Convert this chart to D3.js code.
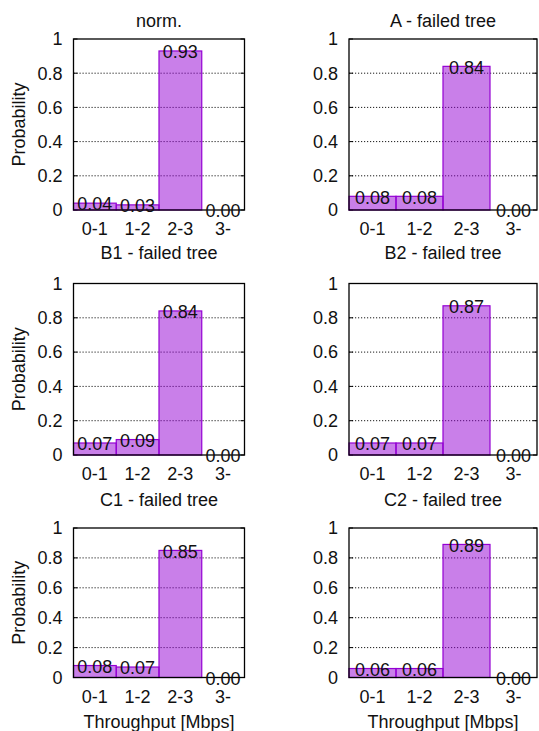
<!DOCTYPE html>
<html>
<head>
<meta charset="utf-8">
<script src="https://cdn.jsdelivr.net/npm/d3@7"></script>
<style>
  html, body { margin: 0; padding: 0; background: #fff; }
  svg text { font-family: "Liberation Sans", Arial, Helvetica, sans-serif; fill: #111; }
</style>
</head>
<body>
<svg id="chart" width="539" height="731"></svg>
<script>
// Throughput bins shared by every panel
const categories = ["0-1", "1-2", "2-3", "3-"];

// Panel titles, in reading order
const titles = ["norm.", "A - failed tree", "B1 - failed tree", "B2 - failed tree", "C1 - failed tree", "C2 - failed tree"];

// Probability of each throughput bin, per scenario
const normValues = [0.04, 0.03, 0.93, 0.00];
const aValues    = [0.08, 0.08, 0.84, 0.00];
const b1Values   = [0.07, 0.09, 0.84, 0.00];
const b2Values   = [0.07, 0.07, 0.87, 0.00];
const c1Values   = [0.08, 0.07, 0.85, 0.00];
const c2Values   = [0.06, 0.06, 0.89, 0.00];

// Y-axis ticks
const yTicks = [0, 0.2, 0.4, 0.6, 0.8, 1];
const yTickLabels = ["0", "0.2", "0.4", "0.6", "0.8", "1"];

const yLabel = "Probability";
const xLabel = "Throughput [Mbps]";

const seriesList = [normValues, aValues, b1Values, b2Values, c1Values, c2Values];

// Plot-area frames for the 3x2 grid
const cols = [{ x0: 73.5, x1: 244.5 }, { x0: 349, x1: 537 }];
const rows = [
  { y0: 39,    y1: 210,   titleY: 21 },
  { y0: 283.5, y1: 455,   titleY: 252.7 },
  { y0: 528,   y1: 677.5, titleY: 500 }
];

const svg = d3.select("#chart");
const barStroke = "#9400d3";
const fontSize = 18;

seriesList.forEach((values, i) => {
  const col = cols[i % 2];
  const row = rows[Math.floor(i / 2)];
  const x = d3.scaleBand().domain(categories).range([col.x0, col.x1]).padding(0);
  const y = d3.scaleLinear().domain([0, 1]).range([row.y1, row.y0]);

  const g = svg.append("g");

  // dotted grid lines
  g.selectAll("line.grid")
    .data(yTicks.filter(t => t > 0 && t < 1))
    .join("line")
    .attr("x1", col.x0).attr("x2", col.x1)
    .attr("y1", d => y(d)).attr("y2", d => y(d))
    .attr("stroke", "#000").attr("stroke-width", 0.9)
    .attr("stroke-dasharray", "1.2,1.8");

  // short solid tick marks on both vertical borders
  const tickLen = 4;
  yTicks.forEach(t => {
    g.append("line").attr("x1", col.x0).attr("x2", col.x0 + tickLen)
      .attr("y1", y(t)).attr("y2", y(t)).attr("stroke", "#000").attr("stroke-width", 1);
    g.append("line").attr("x1", col.x1 - tickLen).attr("x2", col.x1)
      .attr("y1", y(t)).attr("y2", y(t)).attr("stroke", "#000").attr("stroke-width", 1);
  });

  // bars
  g.selectAll("rect.bar")
    .data(values)
    .join("rect")
    .attr("x", (d, k) => x(categories[k]))
    .attr("width", x.bandwidth())
    .attr("y", d => y(d))
    .attr("height", d => y(0) - y(d))
    .attr("fill", barStroke).attr("fill-opacity", 0.5)
    .attr("stroke", barStroke).attr("stroke-width", 1.2);

  // frame
  g.append("rect")
    .attr("x", col.x0).attr("y", row.y0)
    .attr("width", col.x1 - col.x0).attr("height", row.y1 - row.y0)
    .attr("fill", "none").attr("stroke", "#000").attr("stroke-width", 1.3);

  // value labels centred on each bar top
  g.selectAll("text.val")
    .data(values)
    .join("text")
    .attr("x", (d, k) => x(categories[k]) + x.bandwidth() / 2)
    .attr("y", d => y(d) + 1)
    .attr("dy", "0.35em")
    .attr("text-anchor", "middle")
    .attr("font-size", fontSize)
    .text(d => d3.format(".2f")(d));

  // y tick labels
  g.selectAll("text.ytick")
    .data(yTicks)
    .join("text")
    .attr("x", col.x0 - 11)
    .attr("y", d => y(d))
    .attr("dy", "0.35em")
    .attr("text-anchor", "end")
    .attr("font-size", fontSize)
    .text((d, k) => yTickLabels[k]);

  // x tick labels
  g.selectAll("text.xtick")
    .data(categories)
    .join("text")
    .attr("x", d => x(d) + x.bandwidth() / 2)
    .attr("y", row.y1 + 19)
    .attr("dy", "0.35em")
    .attr("text-anchor", "middle")
    .attr("font-size", fontSize)
    .text(d => d);

  // panel title
  g.append("text")
    .attr("x", (col.x0 + col.x1) / 2)
    .attr("y", row.titleY)
    .attr("dy", "0.35em")
    .attr("text-anchor", "middle")
    .attr("font-size", fontSize)
    .text(titles[i]);

  // y-axis label on left column
  if (i % 2 === 0) {
    g.append("text")
      .attr("transform", `translate(18.3,${(row.y0 + row.y1) / 2}) rotate(-90)`)
      .attr("dy", "0.35em")
      .attr("text-anchor", "middle")
      .attr("font-size", fontSize)
      .text(yLabel);
  }

  // x-axis label under bottom row
  if (Math.floor(i / 2) === rows.length - 1) {
    g.append("text")
      .attr("x", (col.x0 + col.x1) / 2)
      .attr("y", 722)
      .attr("dy", "0.35em")
      .attr("text-anchor", "middle")
      .attr("font-size", fontSize)
      .text(xLabel);
  }
});
</script>
</body>
</html>
